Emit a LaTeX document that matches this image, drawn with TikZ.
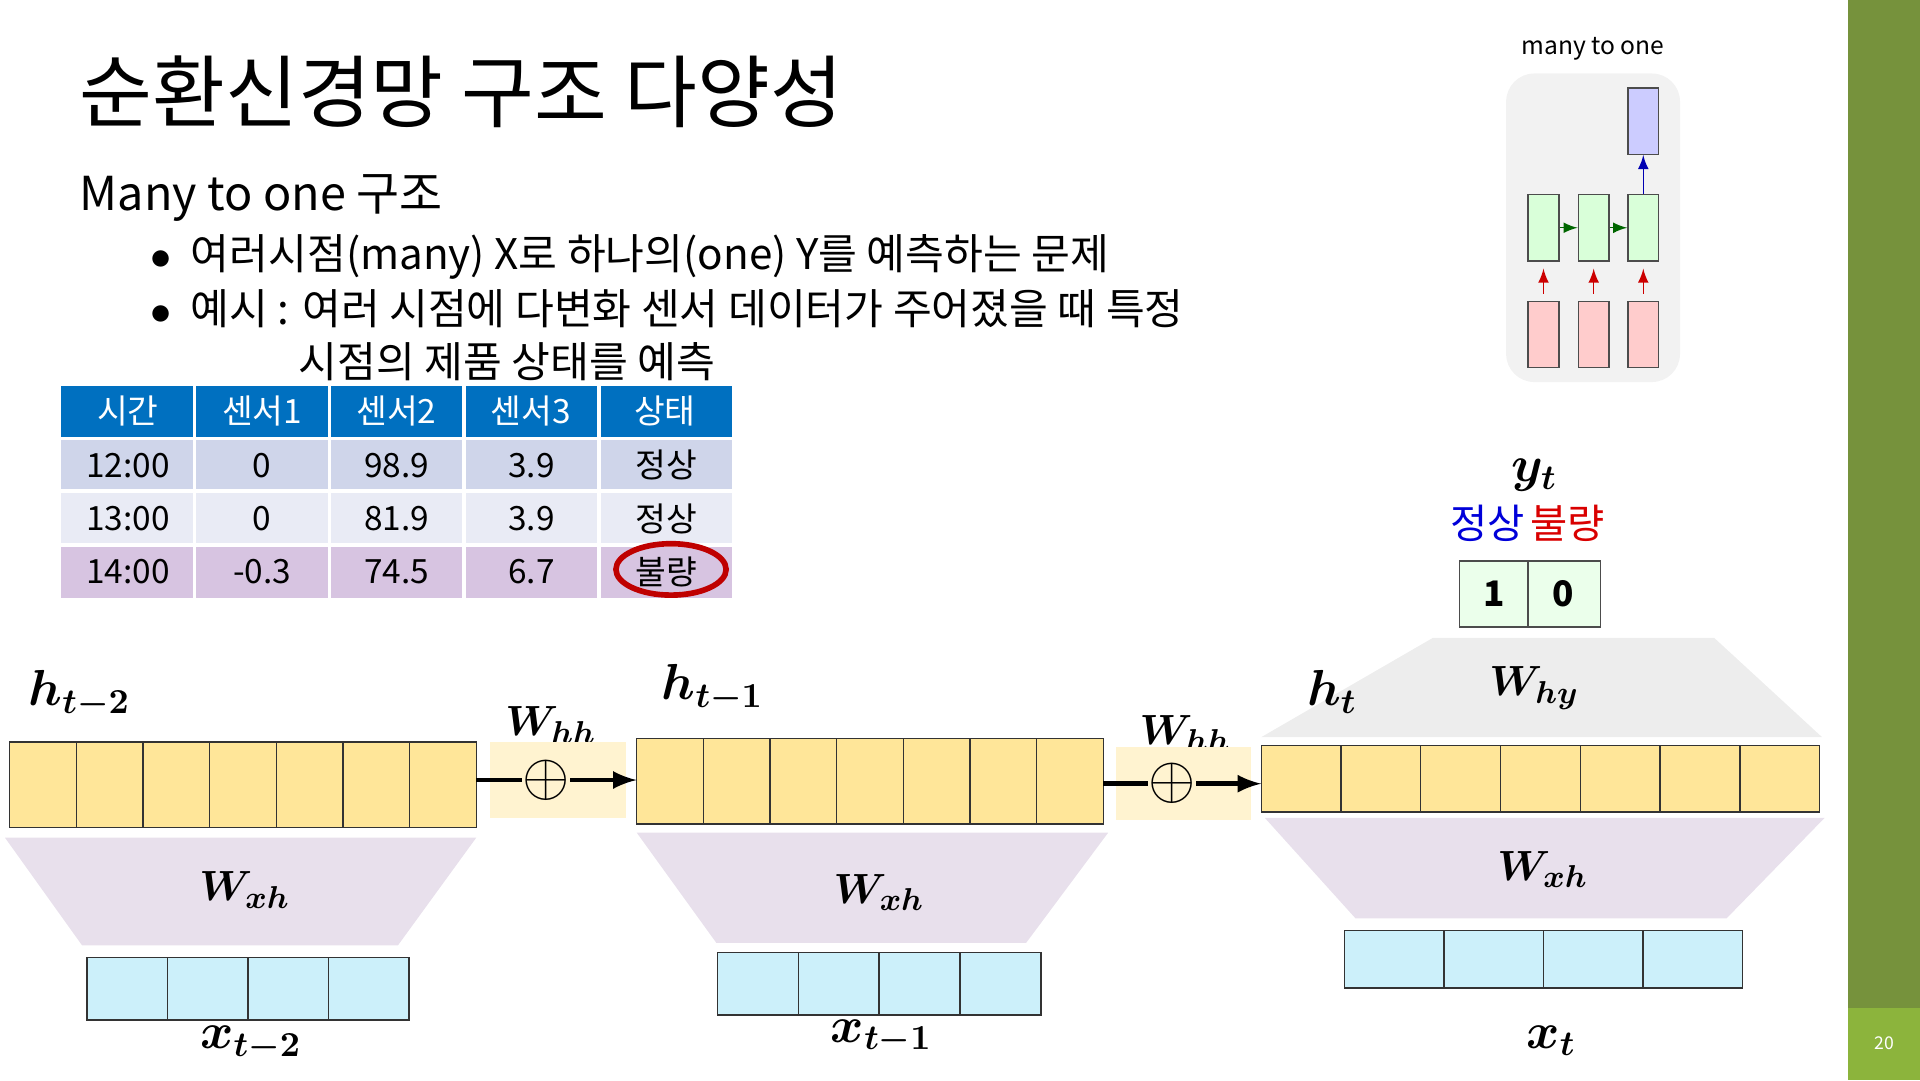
\documentclass[tikz,border=0pt]{standalone}
\usepackage{fontspec}
\usepackage{bm}
\setmainfont{Noto Sans CJK KR}
\usetikzlibrary{positioning}
\definecolor{barGreen}{RGB}{118,146,60}
\definecolor{pageGreen}{RGB}{140,180,60}
\definecolor{hdrBlue}{RGB}{0,112,192}
\definecolor{rowA}{RGB}{207,213,234}
\definecolor{rowB}{RGB}{233,235,245}
\definecolor{rowC}{RGB}{215,196,225}
\definecolor{cellY}{RGB}{255,230,153}
\definecolor{cellC}{RGB}{204,240,250}
\definecolor{trapP}{RGB}{232,224,236}
\definecolor{whhY}{RGB}{255,243,208}
\tikzset{
  hcell/.style={draw=black!80,fill=cellY},
  xcell/.style={draw=black!80,fill=cellC},
  trap/.style={fill=trapP},
  wlab/.style={font=\fontsize{13}{13}\selectfont},
  tcell/.style={font=\fontsize{9.5}{10}\selectfont},
}
\begin{document}
\begin{tikzpicture}[x=0.012245cm,y=-0.012245cm]
\useasboundingbox (0,0) rectangle (1568,882);

% side bar
\fill[barGreen] (1509,0) rectangle (1568,882);
\fill[pageGreen] (1509,823) rectangle (1568,882);
\node[white,font=\fontsize{5}{5}\selectfont] (pg) at (1539,852) {20};

% title and bullets
\node[anchor=west,font=\fontsize{22.5}{23}\selectfont] (title) at (55,75) {순환신경망 구조 다양성};
\node[anchor=west,font=\fontsize{13.3}{14}\selectfont] (sub) at (55,162) {Many to one 구조};
\node[anchor=west,font=\fontsize{12}{12}\selectfont] (b1) at (113,210) {$\bullet$\ \ 여러시점(many) X로 하나의(one) Y를 예측하는 문제};
\node[anchor=west,font=\fontsize{12}{12}\selectfont] (b2) at (113,252) {$\bullet$\ \ 예시 : 여러 시점에 다변화 센서 데이터가 주어졌을 때 특정};
\node[anchor=west,font=\fontsize{12}{12}\selectfont] (b3) at (234,295) {시점의 제품 상태를 예측};

% table
\fill[hdrBlue] (50,315) rectangle (598,358);
\fill[rowA] (50,358) rectangle (598,401);
\fill[rowB] (50,401) rectangle (598,445);
\fill[rowC] (50,445) rectangle (598,488);
\foreach \x in {159,269,379,489} \draw[white,line width=1pt] (\x,315) -- (\x,488);
\foreach \y in {358,401,445} \draw[white,line width=1pt] (50,\y) -- (598,\y);
\foreach \t [count=\i from 0] in {시간,센서1,센서2,센서3,상태}
  \node[tcell,white] at (104.5+109.6*\i,336) {\t};
\foreach \a/\b/\c/\d/\e [count=\r from 0] in {12:00/0/98.9/3.9/정상,13:00/0/81.9/3.9/정상,14:00/-0.3/74.5/6.7/불량}{
  \node[tcell] at (104.5,380+43.5*\r) {\a};
  \node[tcell] at (214,380+43.5*\r) {\b};
  \node[tcell] at (324,380+43.5*\r) {\c};
  \node[tcell] at (434,380+43.5*\r) {\d};
  \node[tcell] at (544,380+43.5*\r) {\e};
}
\draw[red!75!black,line width=1.6pt] (548,465) ellipse [x radius=45,y radius=21];

% inset
\node[font=\fontsize{7}{7}\selectfont] (inset) at (1301,40) {many to one};
\fill[black!5,rounded corners=8pt] (1230,60) rectangle (1372,312);
\node[draw=black!70,fill=blue!20,minimum width=25*0.012245cm,minimum height=54*0.012245cm,inner sep=0] (yo) at (1342,99) {};
\foreach \x [count=\i] in {1260.5,1301.5,1342}{
  \node[draw=black!70,fill=green!15,minimum width=25*0.012245cm,minimum height=54*0.012245cm,inner sep=0] (g\i) at (\x,186) {};
  \node[draw=black!70,fill=red!20,minimum width=25*0.012245cm,minimum height=54*0.012245cm,inner sep=0] (p\i) at (\x,273) {};
  \draw[-latex,red!80!black,shorten <=2pt,shorten >=2pt] (p\i) -- (g\i);
}
\draw[-latex,green!40!black] (g1) -- (g2);
\draw[-latex,green!40!black] (g2) -- (g3);
\draw[-latex,blue!70!black] (g3) -- (yo);

% output
\node[font=\fontsize{14}{14}\selectfont] (yt) at (1253,388) {$\bm{y_t}$};
\node[blue!85!black,font=\fontsize{11.5}{12}\selectfont] (ok) at (1215,427) {정상};
\node[red!85!black,font=\fontsize{11.5}{12}\selectfont] (ng) at (1280,427) {불량};
\draw[black!70,fill=green!8] (1192,458) rectangle (1307,512);
\draw[black!70] (1248,458) -- (1248,512);
\node[font=\bfseries\fontsize{10}{10}\selectfont] (one) at (1220,485) {1};
\node[font=\bfseries\fontsize{10}{10}\selectfont] (zero) at (1277,485) {0};
\fill[black!7] (1030,602) -- (1488,602) -- (1400,521) -- (1170,521) -- cycle;
\node[wlab] (why) at (1253,562) {$\bm{W_{hy}}$};

% weight trapezoids
\fill[trap] (4,684) -- (389,684) -- (325,772) -- (67,772) -- cycle;
\fill[trap] (520,680) -- (905,680) -- (838,770) -- (585,770) -- cycle;
\fill[trap] (1033,668) -- (1490,668) -- (1410,750) -- (1107,750) -- cycle;
\node[wlab] (wxa) at (200,727) {$\bm{W_{xh}}$};
\node[wlab] (wxb) at (718,729) {$\bm{W_{xh}}$};
\node[wlab] (wxc) at (1260,710) {$\bm{W_{xh}}$};

% hidden states
\foreach \i in {0,...,6}{
  \draw[hcell] (8+54.43*\i,606) rectangle (8+54.43*\i+54.43,676);
  \draw[hcell] (520+54.43*\i,603) rectangle (520+54.43*\i+54.43,673);
  \draw[hcell] (1030+65.14*\i,609) rectangle (1030+65.14*\i+65.14,663);
}
\coordinate (ha) at (389,637);
\coordinate (hbl) at (520,637);
\coordinate (hbr) at (901,640);
\coordinate (hc) at (1030,640);
\node[font=\fontsize{14}{14}\selectfont] (hta) at (65,567) {$\bm{h_{t-2}}$};
\node[font=\fontsize{14}{14}\selectfont] (htb) at (582,562) {$\bm{h_{t-1}}$};
\node[font=\fontsize{14}{14}\selectfont] (htc) at (1088,565) {$\bm{h_t}$};

% recurrent weights
\node[wlab] (wha) at (450,592) {$\bm{W_{hh}}$};
\node[wlab] (whb) at (968,599) {$\bm{W_{hh}}$};
\fill[whhY] (400,606) rectangle (511,668);
\fill[whhY] (911,610) rectangle (1022,670);
\node[inner sep=0,font=\fontsize{17}{17}\selectfont] (pa) at (446,637) {$\oplus$};
\node[inner sep=0,font=\fontsize{17}{17}\selectfont] (pb) at (957,640) {$\oplus$};
\draw[line width=1.3pt] (ha) -- (pa);
\draw[line width=1.3pt,-latex] (pa) -- (hbl);
\draw[line width=1.3pt] (hbr) -- (pb);
\draw[line width=1.3pt,-latex] (pb) -- (hc);

% inputs
\foreach \i in {0,...,3}{
  \draw[xcell] (71+65.75*\i,782) rectangle (71+65.75*\i+65.75,833);
  \draw[xcell] (586+66*\i,778) rectangle (586+66*\i+66,829);
  \draw[xcell] (1098+81.25*\i,760) rectangle (1098+81.25*\i+81.25,807);
}
\node[font=\fontsize{14}{14}\selectfont] (xa) at (205,852) {$\bm{x_{t-2}}$};
\node[font=\fontsize{14}{14}\selectfont] (xb) at (720,847) {$\bm{x_{t-1}}$};
\node[font=\fontsize{14}{14}\selectfont] (xc) at (1267,850) {$\bm{x_t}$};
\end{tikzpicture}
\end{document}
